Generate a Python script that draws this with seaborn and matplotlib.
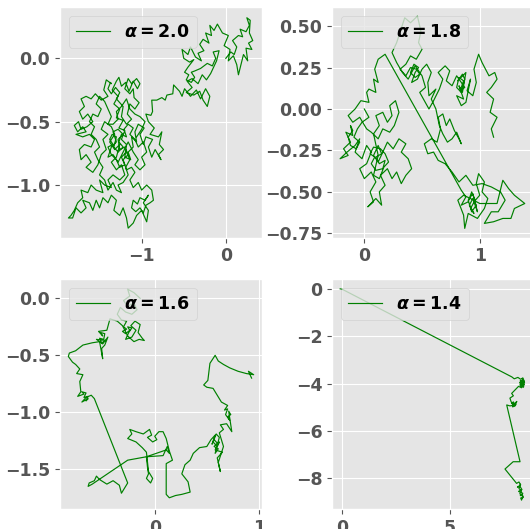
import matplotlib
matplotlib.use("Agg")
import matplotlib.pyplot as plt
import seaborn as sns
import pandas as pd

# ---------------- data ----------------
alphas = ["2.0", "1.8", "1.6", "1.4"]

walk_a20 = [
    (0.00, 0.00), (0.06, 0.05), (0.10, 0.03), (0.13, 0.09), (0.08, 0.14), (0.15, 0.18), (0.20, 0.17),
    (0.17, 0.23), (0.24, 0.21), (0.28, 0.26), (0.25, 0.32), (0.29, 0.30), (0.28, 0.20), (0.32, 0.14),
    (0.27, 0.12), (0.31, 0.07), (0.24, 0.08), (0.26, -0.02), (0.21, 0.03), (0.18, -0.05), (0.15, -0.13),
    (0.13, -0.05), (0.09, 0.02), (0.03, -0.02), (0.05, 0.07), (-0.02, 0.10), (0.03, 0.18), (-0.04, 0.20),
    (-0.10, 0.27), (-0.14, 0.22), (-0.19, 0.26), (-0.17, 0.18), (-0.24, 0.20), (-0.20, 0.12), (-0.27, 0.15),
    (-0.31, 0.11), (-0.26, 0.06), (-0.33, 0.04), (-0.29, -0.02), (-0.36, 0.01), (-0.42, 0.09), (-0.45, 0.03),
    (-0.52, 0.07), (-0.50, 0.00), (-0.43, -0.03), (-0.38, -0.01), (-0.45, -0.07), (-0.49, -0.11),
    (-0.44, -0.13), (-0.47, -0.17), (-0.41, -0.19), (-0.37, -0.15), (-0.41, -0.11), (-0.37, -0.10),
    (-0.30, -0.08), (-0.22, -0.04), (-0.16, -0.06), (-0.12, 0.00), (-0.15, 0.05), (-0.08, 0.06),
    (-0.11, -0.02), (-0.18, -0.12), (-0.23, -0.17), (-0.28, -0.13), (-0.33, -0.20), (-0.40, -0.16),
    (-0.46, -0.18), (-0.40, -0.23), (-0.47, -0.27), (-0.38, -0.29), (-0.31, -0.26), (-0.27, -0.33),
    (-0.22, -0.38), (-0.19, -0.30), (-0.24, -0.24), (-0.30, -0.32), (-0.35, -0.25), (-0.42, -0.30),
    (-0.49, -0.24), (-0.52, -0.30), (-0.55, -0.26), (-0.62, -0.21), (-0.63, -0.28), (-0.70, -0.29),
    (-0.72, -0.33), (-0.76, -0.31), (-0.82, -0.33), (-0.88, -0.33), (-0.87, -0.42), (-0.89, -0.45),
    (-0.95, -0.44), (-0.92, -0.50), (-0.85, -0.55), (-0.90, -0.60), (-0.80, -0.62), (-0.76, -0.58),
    (-0.79, -0.68), (-0.74, -0.72), (-0.80, -0.76), (-0.77, -0.80), (-0.84, -0.72), (-0.88, -0.78),
    (-0.92, -0.70), (-0.87, -0.64), (-0.95, -0.62), (-0.98, -0.68), (-1.02, -0.60), (-0.97, -0.55),
    (-1.04, -0.52), (-1.08, -0.58), (-1.06, -0.66), (-1.12, -0.62), (-1.10, -0.70), (-1.16, -0.74),
    (-1.13, -0.80), (-1.20, -0.78), (-1.18, -0.68), (-1.24, -0.64), (-1.20, -0.57), (-1.27, -0.55),
    (-1.22, -0.49), (-1.30, -0.47), (-1.26, -0.40), (-1.33, -0.36), (-1.28, -0.30), (-1.35, -0.25),
    (-1.30, -0.18), (-1.27, -0.15), (-1.24, -0.22), (-1.19, -0.19), (-1.15, -0.26), (-1.10, -0.18),
    (-1.05, -0.24), (-1.02, -0.20), (-1.06, -0.16), (-1.12, -0.20), (-1.16, -0.16), (-1.20, -0.24),
    (-1.14, -0.28), (-1.10, -0.24), (-1.09, -0.31), (-1.03, -0.35), (-1.08, -0.40), (-1.14, -0.36),
    (-1.17, -0.44), (-1.12, -0.48), (-1.18, -0.52), (-1.24, -0.46), (-1.22, -0.38), (-1.30, -0.32),
    (-1.26, -0.27), (-1.31, -0.23), (-1.36, -0.28), (-1.40, -0.24), (-1.37, -0.19),
    (-1.36, -0.20), (-1.42, -0.17), (-1.45, -0.25), (-1.40, -0.30), (-1.48, -0.33), (-1.55, -0.28),
    (-1.60, -0.32), (-1.66, -0.30), (-1.72, -0.32), (-1.68, -0.38), (-1.74, -0.42), (-1.70, -0.48),
    (-1.64, -0.44), (-1.58, -0.50), (-1.65, -0.54), (-1.72, -0.56), (-1.75, -0.50), (-1.80, -0.53),
    (-1.76, -0.58), (-1.70, -0.54), (-1.66, -0.58), (-1.78, -0.60), (-1.70, -0.62), (-1.62, -0.60),
    (-1.56, -0.64), (-1.60, -0.70), (-1.68, -0.68), (-1.74, -0.72), (-1.72, -0.80), (-1.66, -0.76),
    (-1.60, -0.82), (-1.66, -0.86), (-1.58, -0.90), (-1.52, -0.84), (-1.48, -0.76), (-1.42, -0.72),
    (-1.46, -0.64), (-1.40, -0.60), (-1.48, -0.56), (-1.44, -0.50), (-1.36, -0.54), (-1.32, -0.60),
    (-1.38, -0.66), (-1.32, -0.72), (-1.26, -0.68), (-1.30, -0.78), (-1.36, -0.82), (-1.30, -0.88),
    (-1.24, -0.84), (-1.20, -0.92), (-1.26, -0.96), (-1.34, -0.92), (-1.40, -0.96), (-1.36, -1.02),
    (-1.44, -1.00), (-1.50, -0.96), (-1.46, -1.06), (-1.54, -1.04), (-1.60, -1.00), (-1.64, -1.06),
    (-1.72, -1.04), (-1.70, -1.10), (-1.76, -1.14), (-1.80, -1.20), (-1.84, -1.24), (-1.87, -1.26),
    (-1.82, -1.26), (-1.78, -1.18), (-1.72, -1.22), (-1.66, -1.18), (-1.70, -1.12), (-1.62, -1.14),
    (-1.58, -1.20), (-1.54, -1.12), (-1.50, -1.18), (-1.46, -1.10), (-1.40, -1.14), (-1.36, -1.08),
    (-1.30, -1.12), (-1.33, -1.20), (-1.26, -1.24), (-1.22, -1.18), (-1.18, -1.26), (-1.16, -1.34),
    (-1.10, -1.30), (-1.06, -1.24), (-1.00, -1.20), (-0.96, -1.26), (-0.94, -1.29), (-0.92, -1.20),
    (-0.98, -1.14), (-0.92, -1.08), (-0.96, -1.12), (-1.02, -1.10), (-1.05, -1.15), (-1.10, -1.12),
    (-1.12, -1.18), (-1.07, -1.21), (-1.02, -1.18), (-0.98, -1.22), (-0.95, -1.16), (-0.90, -1.14),
    (-0.86, -1.12), (-0.88, -1.04), (-0.94, -1.00), (-1.00, -1.04), (-1.04, -0.98), (-1.10, -1.02),
    (-1.14, -0.96), (-1.08, -0.90), (-1.12, -0.86), (-1.18, -0.88), (-1.22, -0.80), (-1.16, -0.76),
    (-1.20, -0.70), (-1.26, -0.72), (-1.28, -0.64), (-1.22, -0.60), (-1.28, -0.56), (-1.34, -0.58),
    (-1.30, -0.66), (-1.36, -0.70), (-1.40, -0.78), (-1.34, -0.76), (-1.28, -0.82), (-1.22, -0.74),
    (-1.16, -0.66), (-1.10, -0.74), (-1.04, -0.80), (-1.08, -0.84), (-1.02, -0.88), (-0.96, -0.84),
    (-1.00, -0.78), (-0.94, -0.74), (-0.98, -0.66), (-1.04, -0.70), (-1.08, -0.64), (-1.14, -0.60),
    (-1.10, -0.55), (-1.16, -0.52), (-1.21, -0.56), (-1.18, -0.62), (-1.24, -0.60), (-1.27, -0.66),
    (-1.22, -0.70), (-1.28, -0.74), (-1.33, -0.70), (-1.30, -0.62), (-1.35, -0.60), (-1.38, -0.64),
    (-1.34, -0.68), (-1.40, -0.70), (-1.36, -0.76), (-1.30, -0.80), (-1.26, -0.86), (-1.20, -0.84),
    (-1.24, -0.78), (-1.18, -0.74), (-1.14, -0.80), (-1.19, -0.86), (-1.16, -0.92), (-1.22, -0.98),
    (-1.28, -1.00), (-1.24, -1.06), (-1.30, -1.04), (-1.34, -0.98), (-1.40, -1.04), (-1.44, -0.96),
    (-1.50, -0.92), (-1.46, -0.86), (-1.52, -0.80), (-1.56, -0.74), (-1.50, -0.70), (-1.54, -0.64),
    (-1.60, -0.60), (-1.56, -0.54), (-1.62, -0.50), (-1.58, -0.44), (-1.52, -0.46), (-1.48, -0.40),
    (-1.54, -0.36), (-1.50, -0.30), (-1.44, -0.34), (-1.40, -0.40), (-1.36, -0.46), (-1.40, -0.52),
    (-1.34, -0.52), (-1.28, -0.48), (-1.30, -0.42), (-1.24, -0.38), (-1.18, -0.32), (-1.14, -0.40),
    (-1.08, -0.44), (-1.02, -0.46), (-0.96, -0.50), (-1.00, -0.56), (-1.06, -0.62),
]

walk_a18 = [
    (0.00, 0.00), (0.04, -0.05), (-0.02, -0.08), (-0.06, -0.12), (-0.09, -0.17), (-0.04, -0.20),
    (-0.07, -0.24), (-0.12, -0.22), (-0.14, -0.17), (-0.10, -0.13), (-0.12, -0.10), (-0.10, -0.16),
    (-0.16, -0.14), (-0.12, -0.20), (-0.18, -0.24), (-0.14, -0.28), (-0.21, -0.30), (-0.15, -0.26),
    (-0.08, -0.22), (-0.04, -0.18), (-0.08, -0.26), (-0.02, -0.30), (0.02, -0.22), (0.06, -0.26),
    (0.02, -0.33), (-0.04, -0.36), (0.00, -0.42), (0.06, -0.38), (0.10, -0.44), (0.05, -0.50),
    (0.08, -0.56), (0.03, -0.59), (0.10, -0.54), (0.15, -0.58), (0.13, -0.50), (0.18, -0.46),
    (0.14, -0.40), (0.20, -0.36), (0.24, -0.42), (0.28, -0.38), (0.32, -0.45), (0.36, -0.40),
    (0.41, -0.36), (0.38, -0.30), (0.32, -0.26), (0.36, -0.21), (0.30, -0.18), (0.25, -0.24),
    (0.20, -0.20), (0.16, -0.26), (0.12, -0.32), (0.08, -0.28), (0.12, -0.22), (0.15, -0.27),
    (0.10, -0.29), (0.13, -0.33), (0.18, -0.31), (0.16, -0.36), (0.10, -0.37), (0.06, -0.33),
    (0.09, -0.29), (0.05, -0.27), (0.08, -0.23), (0.14, -0.24), (0.18, -0.27), (0.21, -0.32),
    (0.17, -0.35), (0.13, -0.42), (0.08, -0.40), (0.10, -0.34), (0.12, -0.28), (0.08, -0.15),
    (0.13, -0.10), (0.10, -0.04), (0.16, -0.02), (0.20, -0.08), (0.24, -0.04), (0.22, 0.02),
    (0.27, 0.05), (0.30, -0.02), (0.26, -0.10), (0.22, -0.14), (0.16, -0.12), (0.12, -0.18),
    (0.06, -0.14), (0.02, -0.12), (-0.04, -0.05), (-0.10, -0.08), (-0.14, -0.04), (-0.08, 0.00),
    (-0.03, 0.05), (0.04, 0.04), (0.02, 0.10), (0.04, 0.12), (0.10, 0.10), (0.08, 0.18),
    (0.12, 0.16), (0.09, 0.24), (0.12, 0.30), (0.18, 0.33), (0.84, -0.49), (0.88, -0.53),
    (0.84, -0.58), (0.90, -0.56), (0.93, -0.50), (0.96, -0.55), (0.92, -0.60), (0.95, -0.63),
    (0.91, -0.58), (0.94, -0.54), (0.97, -0.58), (0.93, -0.62), (0.90, -0.55), (0.94, -0.51),
    (0.98, -0.62), (0.95, -0.56), (1.00, -0.52), (0.97, -0.45), (0.99, -0.39), (1.04, -0.44),
    (1.02, -0.50), (1.07, -0.54), (1.04, -0.60), (0.98, -0.66), (0.90, -0.63), (0.87, -0.72),
    (0.86, -0.64), (0.81, -0.55), (0.86, -0.52), (0.92, -0.54), (1.00, -0.57), (1.08, -0.57),
    (1.15, -0.57), (1.20, -0.43), (1.25, -0.48), (1.30, -0.52), (1.39, -0.57), (1.30, -0.60),
    (1.27, -0.66), (1.20, -0.66), (1.12, -0.68), (1.04, -0.69), (1.10, -0.62), (1.16, -0.62),
    (1.22, -0.55), (1.18, -0.50), (1.10, -0.47), (1.02, -0.45), (0.94, -0.46), (0.88, -0.40),
    (0.82, -0.44), (0.76, -0.38), (0.70, -0.33), (0.64, -0.31), (0.60, -0.26), (0.55, -0.27),
    (0.52, -0.21), (0.58, -0.18), (0.63, -0.20), (0.66, -0.12), (0.64, -0.05), (0.68, -0.03),
    (0.71, -0.10), (0.74, -0.06), (0.78, -0.13), (0.82, -0.18), (0.84, -0.21), (0.80, -0.14),
    (0.76, -0.18), (0.72, -0.20), (0.68, -0.15), (0.65, -0.10), (0.62, 0.00), (0.58, 0.06),
    (0.62, 0.12), (0.56, 0.08), (0.55, 0.16), (0.58, 0.22), (0.54, 0.27), (0.50, 0.24),
    (0.46, 0.18), (0.41, 0.16), (0.44, 0.22), (0.47, 0.25), (0.43, 0.27), (0.40, 0.22),
    (0.44, 0.19), (0.48, 0.21), (0.45, 0.24), (0.40, 0.25), (0.36, 0.20), (0.31, 0.24),
    (0.36, 0.27), (0.40, 0.32), (0.45, 0.30), (0.50, 0.36), (0.47, 0.40), (0.49, 0.47),
    (0.46, 0.56), (0.40, 0.52), (0.35, 0.55), (0.28, 0.40), (0.24, 0.34), (0.28, 0.28),
    (0.33, 0.22), (0.38, 0.18), (0.44, 0.26), (0.50, 0.20), (0.53, 0.13), (0.48, 0.10),
    (0.52, 0.05), (0.56, 0.00), (0.60, 0.05), (0.65, 0.12), (0.68, 0.18), (0.64, 0.22),
    (0.70, 0.26), (0.74, 0.23), (0.71, 0.17), (0.76, 0.14), (0.80, 0.20), (0.84, 0.16),
    (0.87, 0.13), (0.83, 0.11), (0.86, 0.17), (0.82, 0.19), (0.80, 0.13), (0.84, 0.10),
    (0.87, 0.18), (0.85, 0.21), (0.81, 0.17), (0.88, 0.22), (0.85, 0.10), (0.82, 0.14),
    (0.86, 0.06), (0.80, 0.08), (0.84, 0.02), (0.88, 0.04), (0.92, 0.18), (0.89, 0.11),
    (0.94, 0.08), (0.97, 0.16), (0.95, 0.24), (0.99, 0.33), (1.02, 0.28), (1.05, 0.24),
    (1.08, 0.20), (1.13, 0.22), (1.15, 0.18), (1.10, 0.13), (1.06, 0.10), (1.12, 0.06),
    (1.09, -0.02), (1.15, -0.05), (1.10, -0.12), (1.12, -0.17),
]

walk_a16 = [
    (-0.14, 0.00), (-0.20, 0.05), (-0.26, 0.08), (-0.24, 0.02), (-0.30, -0.02), (-0.26, -0.07),
    (-0.20, -0.04), (-0.17, -0.10), (-0.22, -0.14), (-0.28, -0.12), (-0.33, -0.08), (-0.36, -0.14),
    (-0.32, -0.19), (-0.27, -0.20), (-0.30, -0.25), (-0.27, -0.27), (-0.31, -0.29), (-0.28, -0.31),
    (-0.24, -0.28), (-0.26, -0.25), (-0.22, -0.26), (-0.25, -0.30), (-0.28, -0.36), (-0.22, -0.34),
    (-0.18, -0.28), (-0.23, -0.24), (-0.19, -0.20), (-0.14, -0.23), (-0.16, -0.30), (-0.12, -0.35),
    (-0.10, -0.37), (-0.15, -0.36), (-0.20, -0.38), (-0.26, -0.33), (-0.31, -0.24), (-0.36, -0.20),
    (-0.43, -0.18), (-0.46, -0.28), (-0.54, -0.29), (-0.50, -0.33), (-0.52, -0.30), (-0.48, -0.31),
    (-0.49, -0.36), (-0.53, -0.35), (-0.51, -0.39), (-0.47, -0.37), (-0.56, -0.36), (-0.50, -0.40),
    (-0.45, -0.34), (-0.48, -0.41), (-0.51, -0.44), (-0.50, -0.53), (-0.53, -0.38), (-0.60, -0.39),
    (-0.69, -0.41), (-0.76, -0.46), (-0.82, -0.48), (-0.83, -0.51), (-0.79, -0.56), (-0.76, -0.58),
    (-0.72, -0.62), (-0.75, -0.66), (-0.69, -0.67), (-0.72, -0.73), (-0.71, -0.82), (-0.74, -0.86),
    (-0.68, -0.84), (-0.70, -0.82), (-0.66, -0.83), (-0.68, -0.87), (-0.64, -0.86), (-0.66, -0.90),
    (-0.64, -0.88), (-0.70, -0.91), (-0.66, -0.87), (-0.61, -0.85), (-0.58, -0.88),
    (-0.26, -1.62), (-0.32, -1.71), (-0.34, -1.64), (-0.40, -1.60), (-0.46, -1.63), (-0.53, -1.59),
    (-0.56, -1.56), (-0.58, -1.60), (-0.63, -1.62), (-0.64, -1.65), (-0.60, -1.63), (-0.26, -1.42),
    (-0.08, -1.39), (0.11, -1.33), (0.14, -1.36), (0.12, -1.30), (0.08, -1.38), (-0.08, -1.39),
    (-0.07, -1.48), (-0.06, -1.54), (-0.08, -1.58), (-0.04, -1.62), (-0.02, -1.58), (-0.06, -1.52),
    (-0.08, -1.35), (-0.12, -1.31), (-0.18, -1.26), (-0.26, -1.23), (-0.22, -1.19), (-0.24, -1.15),
    (-0.18, -1.17), (-0.11, -1.19), (-0.05, -1.15), (-0.03, -1.20), (-0.07, -1.22), (-0.02, -1.26),
    (0.02, -1.24), (0.00, -1.21), (0.04, -1.17), (0.08, -1.17),
    (0.11, -1.23), (0.14, -1.34), (0.17, -1.42), (0.11, -1.45), (0.11, -1.60), (0.11, -1.72),
    (0.14, -1.75), (0.20, -1.73), (0.26, -1.72), (0.34, -1.70), (0.32, -1.61), (0.26, -1.54),
    (0.29, -1.46), (0.34, -1.42), (0.37, -1.36), (0.43, -1.31), (0.50, -1.30), (0.54, -1.24),
    (0.58, -1.20), (0.55, -1.28), (0.57, -1.24), (0.60, -1.27), (0.57, -1.30), (0.61, -1.32),
    (0.58, -1.36), (0.62, -1.22), (0.59, -1.19), (0.56, -1.26), (0.60, -1.30), (0.62, -1.26),
    (0.58, -1.33), (0.65, -1.35), (0.60, -1.40),
    (0.63, -1.52), (0.61, -1.44), (0.66, -1.30), (0.62, -1.18), (0.66, -1.15), (0.63, -1.11),
    (0.69, -1.10), (0.74, -1.17), (0.71, -0.99), (0.73, -1.02), (0.70, -1.04), (0.72, -1.07),
    (0.68, -1.02), (0.70, -0.97), (0.67, -0.98), (0.70, -0.94), (0.64, -0.91),
    (0.60, -0.85), (0.56, -0.79), (0.50, -0.78), (0.47, -0.76), (0.51, -0.72), (0.53, -0.57),
    (0.58, -0.50), (0.61, -0.55), (0.66, -0.58), (0.72, -0.61), (0.80, -0.64), (0.88, -0.66),
    (0.95, -0.67), (0.90, -0.64), (0.93, -0.70),
]

walk_a14 = [
    (-0.10, 0.02), (0.00, 0.00), (7.89, -3.72), (8.00, -3.80), (8.17, -3.74), (8.30, -3.82),
    (8.40, -3.76), (8.46, -3.90), (8.32, -3.96), (8.45, -4.04), (8.36, -4.14), (8.26, -4.06),
    (8.40, -3.98), (8.28, -3.88), (8.44, -3.86), (8.38, -3.80), (8.48, -3.95), (8.35, -4.02),
    (8.42, -4.10), (8.30, -4.00), (8.36, -3.92), (8.25, -3.95), (8.33, -4.08), (8.43, -4.16),
    (8.46, -4.00), (8.38, -3.86), (8.30, -3.92), (8.40, -4.06), (8.32, -4.12), (8.44, -3.94),
    (8.34, -4.18), (8.20, -4.12), (8.03, -4.28), (7.88, -4.42), (7.96, -4.52), (7.80, -4.62),
    (7.85, -4.76), (7.94, -4.92), (8.05, -4.82), (8.12, -4.76), (8.03, -4.96), (7.92, -4.99),
    (7.98, -4.86), (8.08, -4.90), (7.88, -4.84), (7.96, -4.78), (8.02, -4.92), (7.80, -4.95),
    (7.65, -4.91), (8.27, -7.32),
    (7.95, -7.32), (7.57, -7.63), (8.11, -8.24), (8.22, -8.18), (8.30, -8.30), (8.15, -8.40),
    (8.26, -8.36), (8.36, -8.50), (8.20, -8.58), (8.30, -8.62), (8.40, -8.66), (8.28, -8.76),
    (8.38, -8.72), (8.42, -8.84), (8.30, -8.86), (8.34, -8.95), (8.40, -8.80), (8.26, -8.68),
    (8.34, -8.56), (8.22, -8.46), (8.28, -8.28),
]

walks = [walk_a20, walk_a18, walk_a16, walk_a14]

x_ticks = [[-1, 0], [0, 1], [0, 1], [0, 5]]
y_ticks = [[0.0, -0.5, -1.0], [0.5, 0.25, 0.0, -0.25, -0.5, -0.75],
           [0.0, -0.5, -1.0, -1.5], [0, -2, -4, -6, -8]]
x_lims = [(-1.97, 0.43), (-0.28, 1.47), (-0.91, 1.03), (-0.48, 8.92)]
y_lims = [(-1.414, 0.405), (-0.775, 0.615), (-1.851, 0.167), (-9.34, 0.425)]

# ---------------- style ----------------
plt.style.use("ggplot")
plt.rcParams["font.weight"] = "bold"
plt.rcParams["xtick.labelsize"] = 12.5
plt.rcParams["ytick.labelsize"] = 12.5
plt.rcParams["xtick.color"] = "#555555"
plt.rcParams["ytick.color"] = "#555555"

W, H = 530, 529
fig = plt.figure(figsize=(W / 100, H / 100), dpi=100)

lefts = [60, 332, 60, 332]
tops = [7, 7, 279.3, 279.3]
bottoms = [237.5, 237.5, 509.3, 509.3]
aw = 202

for i in range(4):
    ax = fig.add_axes([lefts[i] / W, 1 - bottoms[i] / H, aw / W, (bottoms[i] - tops[i]) / H])
    df = pd.DataFrame(walks[i], columns=["x", "y"])
    sns.lineplot(data=df, x="x", y="y", sort=False, estimator=None, color="green",
                 lw=0.85, ax=ax, label=r"$\boldsymbol{\alpha = " + alphas[i] + "}$")
    ax.set_xlim(*x_lims[i])
    ax.set_ylim(*y_lims[i])
    ax.set_xticks(x_ticks[i])
    ax.set_yticks(y_ticks[i])
    ax.set_xlabel("")
    ax.set_ylabel("")
    for lab in ax.get_xticklabels() + ax.get_yticklabels():
        lab.set_fontweight("bold")
    leg = ax.legend(loc="upper left", fontsize=12.5)
    for t in leg.get_texts():
        t.set_color("black")

fig.savefig("out.png", dpi=100)
